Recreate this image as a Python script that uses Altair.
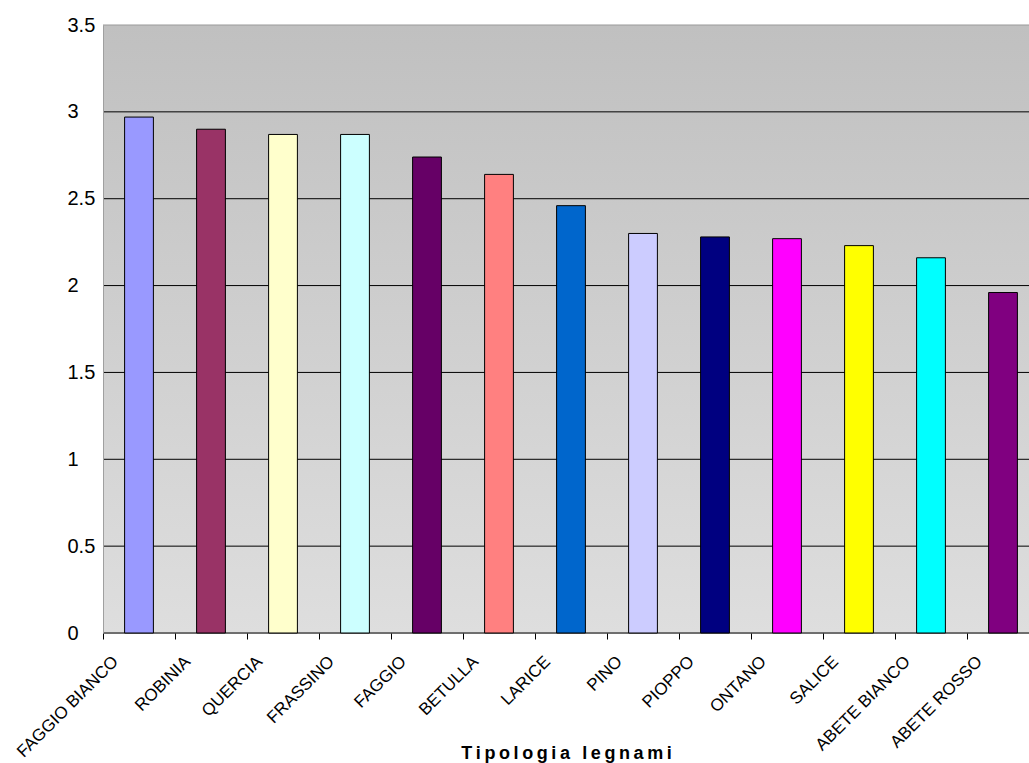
import altair as alt
import pandas as pd

# Wood types and their values, in display order
categories = [
    "FAGGIO BIANCO", "ROBINIA", "QUERCIA", "FRASSINO", "FAGGIO", "BETULLA",
    "LARICE", "PINO", "PIOPPO", "ONTANO", "SALICE", "ABETE BIANCO", "ABETE ROSSO",
]
values = [2.97, 2.90, 2.87, 2.87, 2.74, 2.64, 2.46, 2.30, 2.28, 2.27, 2.23, 2.16, 1.96]
bar_colors = [
    "#9999FF", "#993366", "#FFFFCC", "#CCFFFF", "#660066", "#FF8080",
    "#0066CC", "#CCCCFF", "#000080", "#FF00FF", "#FFFF00", "#00FFFF", "#800080",
]

# Horizontal gridline levels and axis ticks
grid_levels = [0, 0.5, 1.0, 1.5, 2.0, 2.5, 3.0]
y_ticks = [0, 0.5, 1.0, 1.5, 2.0, 2.5, 3.0, 3.5]
y_max = 3.5

x_title = "\u2009".join("Tipologia legnami")

FONT = "Liberation Sans"
VIEW_W, VIEW_H = 926, 608

bars_df = pd.DataFrame({"legno": categories, "valore": values})
grid_df = pd.DataFrame({"livello": grid_levels})

y_scale = alt.Scale(domain=[0, y_max], nice=False, zero=True)
y_axis = alt.Axis(
    values=y_ticks,
    format="~g",
    title=None,
    grid=False,
    ticks=False,
    tickSize=0,
    domain=True,
    domainColor="#a0a0a0",
    domainWidth=1,
    labelFont=FONT,
    labelFontSize=20,
    labelColor="black",
    labelAlign="left",
    labelBaseline="middle",
    labelPadding=36,
    zindex=1,
)

# Plot-area background: vertical grey gradient
background = alt.Chart(pd.DataFrame({"top": [y_max], "bottom": [0]})).mark_rect(
    fill=alt.Gradient(
        gradient="linear",
        x1=0, y1=0, x2=0, y2=1,
        stops=[
            alt.GradientStop(offset=0, color="#c0c0c0"),
            alt.GradientStop(offset=1, color="#dedede"),
        ],
    ),
    stroke=None,
).encode(
    x=alt.value(0),
    x2=alt.value("width"),
    y=alt.Y("top:Q", scale=y_scale, axis=y_axis),
    y2="bottom:Q",
)

gridlines = alt.Chart(grid_df).mark_rule(color="black", strokeWidth=1).encode(
    x=alt.value(0),
    x2=alt.value("width"),
    y=alt.Y("livello:Q", scale=y_scale, axis=y_axis),
)

top_border = alt.Chart(pd.DataFrame({"livello": [y_max]})).mark_rule(
    color="#999999", strokeWidth=1
).encode(
    x=alt.value(0),
    x2=alt.value("width"),
    y=alt.Y("livello:Q", scale=y_scale, axis=y_axis),
)

# Each category gets a 72px slot; the bar fills 40% of it, centred
bars = alt.Chart(bars_df).mark_bar(
    stroke="black", strokeWidth=1, width=alt.RelativeBandSize(0.4)
).encode(
    x=alt.X(
        "legno:N",
        sort=None,
        scale=alt.Scale(range=[0, 936], paddingInner=0, paddingOuter=0),
        axis=alt.Axis(
            title=x_title,
            titleFont=FONT,
            titleFontSize=18,
            titleFontWeight="bold",
            titleColor="black",
            titleX=463,
            titleY=125,
            titleAnchor="middle",
            titleAlign="center",
            titleBaseline="alphabetic",
            domain=False,
            grid=False,
            ticks=True,
            tickSize=6,
            tickColor="black",
            tickWidth=1,
            bandPosition=0,
            labelAngle=315,
            labelAlign="right",
            labelBaseline="top",
            labelOffset=-29,
            labelPadding=14,
            labelFont=FONT,
            labelFontSize=17,
            labelColor="black",
            labelOverlap=False,
            labelLimit=0,
        ),
    ),
    y=alt.Y("valore:Q", scale=y_scale, axis=y_axis),
    color=alt.Color(
        "legno:N",
        scale=alt.Scale(domain=categories, range=bar_colors),
        legend=None,
    ),
)

chart = (
    alt.layer(background, gridlines, top_border, bars)
    .properties(
        width=VIEW_W,
        height=VIEW_H,
        autosize=alt.AutoSizeParams(type="none"),
        padding={"left": 103, "top": 25, "right": 0, "bottom": 130},
        background="white",
    )
    .configure_view(stroke=None)
    .configure(font=FONT)
)

chart.save("out.html", embed_options={"renderer": "svg", "actions": False})
